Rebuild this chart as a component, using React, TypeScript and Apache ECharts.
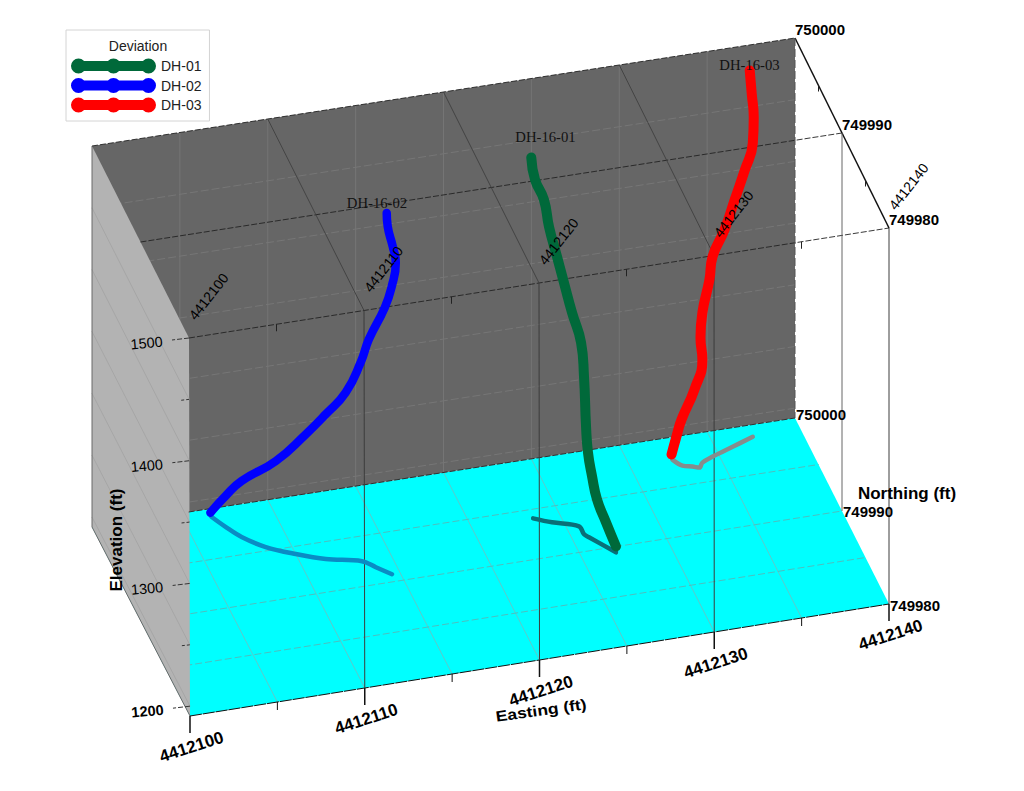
import React, { useEffect, useRef } from "react";
import * as echarts from "echarts";

// Axis values
const eastingMajor = [4412100, 4412110, 4412120, 4412130, 4412140];
const eastingGrid = [4412105, 4412110, 4412115, 4412120, 4412125, 4412130, 4412135];
const eastingMinor = [4412105, 4412115, 4412125, 4412135];
const northingMajor = [749980, 749990, 750000];
const northingGrid = [749985, 749990, 749995];
const northingMinor = [749985, 749995];
const elevationMajor = [1200, 1300, 1400, 1500];
const elevationMinor = [1250, 1350, 1450];
const elevationGrid = [1200, 1250, 1300, 1350, 1400, 1450];

// Borehole traces: [easting, northing, elevation]
const dh01Trace = [
  [4412123.40, 749994.12, 1484.9], [4412123.57, 749993.96, 1467.8], [4412124.00, 749993.67, 1452.8],
  [4412124.24, 749993.50, 1431.8], [4412124.62, 749993.22, 1408.7], [4412124.96, 749993.02, 1388.4],
  [4412125.36, 749992.79, 1364.8], [4412125.73, 749992.26, 1343.7], [4412125.75, 749991.72, 1320.2],
  [4412125.83, 749991.59, 1280.4], [4412125.89, 749991.41, 1260.6], [4412126.04, 749991.10, 1243.1],
  [4412126.22, 749990.73, 1226.9], [4412126.56, 749990.09, 1212.3], [4412126.95, 749989.44, 1196.8],
];
const dh02Trace = [
  [4412114.32, 749991.03, 1483.9], [4412114.36, 749990.97, 1473.3], [4412114.57, 749990.69, 1458.6],
  [4412114.69, 749990.50, 1446.8], [4412114.53, 749990.76, 1425.8], [4412114.24, 749991.16, 1406.2],
  [4412113.59, 749992.10, 1374.6], [4412113.24, 749992.52, 1353.5], [4412112.48, 749992.86, 1328.2],
  [4412111.45, 749993.27, 1309.5], [4412110.49, 749993.92, 1290.4], [4412109.07, 749994.98, 1263.7],
  [4412107.61, 749996.74, 1237.3], [4412107.04, 749997.98, 1217.0], [4412106.54, 749999.30, 1194.5],
];
const dh03Trace = [
  [4412137.07, 749998.68, 1490.2], [4412137.20, 749998.74, 1470.7], [4412137.32, 749998.76, 1450.9],
  [4412137.27, 749998.78, 1429.9], [4412136.74, 749998.51, 1411.3], [4412136.08, 749998.17, 1391.6],
  [4412135.41, 749997.83, 1371.3], [4412134.62, 749997.43, 1354.2], [4412134.40, 749997.28, 1337.2],
  [4412133.92, 749996.99, 1313.7], [4412133.74, 749996.72, 1295.8], [4412133.92, 749996.99, 1275.5],
  [4412133.38, 749996.67, 1254.9], [4412132.74, 749997.02, 1229.3], [4412132.55, 749997.39, 1213.1],
  [4412132.40, 749997.87, 1195.3],
];

// Plan-view projections of the traces on the floor: [easting, northing]
const dh01Floor = [
  [4412123.49, 749994.09], [4412124.38, 749993.40], [4412125.70, 749992.59],
  [4412125.75, 749991.72], [4412125.93, 749991.35], [4412126.95, 749989.44],
];
const dh02Floor = [
  [4412106.57, 749999.19], [4412107.04, 749997.98], [4412107.61, 749996.74], [4412108.61, 749995.38],
  [4412110.00, 749994.23], [4412111.45, 749993.27], [4412113.30, 749992.51], [4412113.87, 749991.70],
  [4412114.53, 749990.76],
];
const dh03Floor = [
  [4412132.42, 749997.75], [4412132.79, 749997.00], [4412133.29, 749996.75], [4412133.63, 749996.54],
  [4412133.92, 749996.99], [4412134.62, 749997.43], [4412135.94, 749998.10], [4412137.27, 749998.78],
];

const E0 = 4412100, E1 = 4412140, N0 = 749980, N1 = 750000, Z0 = 1192, Z1 = 1500;

// Screen position of the eight corners of the plot box, [E][N][Z]
const box = [
  [[[190, 716], [189, 338]], [[92, 527], [92, 146]]],
  [[[889, 604], [889, 228]], [[795, 418], [795, 38]]],
];

function project(E: number, N: number, Z: number): number[] {
  const e = (E - E0) / (E1 - E0), n = (N - N0) / (N1 - N0), z = (Z - Z0) / (Z1 - Z0);
  return [0, 1].map((k) =>
    (1 - e) * ((1 - n) * ((1 - z) * box[0][0][0][k] + z * box[0][0][1][k]) + n * ((1 - z) * box[0][1][0][k] + z * box[0][1][1][k])) +
    e * ((1 - n) * ((1 - z) * box[1][0][0][k] + z * box[1][0][1][k]) + n * ((1 - z) * box[1][1][0][k] + z * box[1][1][1][k]))
  );
}

type P3 = [number, number, number];
const seg = (a: P3, b: P3) => {
  const p = project(...a), q = project(...b);
  return [p[0], p[1], q[0], q[1]];
};
const tick = (a: P3, dx: number, dy: number) => {
  const p = project(...a);
  return [p[0], p[1], p[0] + dx, p[1] + dy];
};

function segments(name: string, data: number[][], style: any, z: number) {
  return {
    type: "custom", name, z, silent: true, clip: false, data,
    renderItem: (_: any, api: any) => {
      const a = api.coord([api.value(0), api.value(1)]);
      const b = api.coord([api.value(2), api.value(3)]);
      return { type: "line", shape: { x1: a[0], y1: a[1], x2: b[0], y2: b[1] }, style: { fill: null, ...style } };
    },
  };
}

function panel(name: string, corners: P3[], fill: string, z: number) {
  return {
    type: "custom", name, z, silent: true, clip: false,
    data: [corners.map((c) => project(...c)).flat()],
    renderItem: (_: any, api: any) => ({
      type: "polygon",
      shape: { points: [0, 2, 4, 6].map((i) => api.coord([api.value(i), api.value(i + 1)])) },
      style: { fill },
    }),
  };
}

type Label = { text: string; x: number; y: number; rot: number; size: number; weight?: string; family?: string; color?: string; scaleX?: number };
const SANS = "Liberation Sans";
const SERIF = "Liberation Serif";
const label = (a: P3, dx: number, dy: number, rest: Omit<Label, "x" | "y">): Label => {
  const p = project(...a);
  return { x: p[0] + dx, y: p[1] + dy, ...rest };
};

const labels: Label[] = [
  ...eastingMajor.map((e) => label([e, N0, Z1], 19.5, -41.5, { text: String(e), rot: 52, size: 14, color: "#000" })),
  ...eastingMajor.map((e) => label([e, N0, Z0], 1.5, 31, { text: String(e), rot: 18, size: 17, weight: "bold" })),
  ...northingMajor.map((n) => label([E1, n, Z1], 25, -8.5, { text: String(n), rot: 0, size: 15, weight: "bold" })),
  ...northingMajor.map((n, i) => label([E1, n, Z0], 26, [1, 0, -4][i], { text: String(n), rot: 0, size: 15, weight: "bold" })),
  ...elevationMajor.map((v) => label([E0, N0, v], -42.5, 5, { text: String(v), rot: 5, size: 14.5, weight: v === 1200 ? "bold" : "normal" })),
  { text: "Elevation (ft)", x: 116, y: 540, rot: 90, size: 17, weight: "bold" },
  { text: "Northing (ft)", x: 907, y: 493.5, rot: 0, size: 17, weight: "bold" },
  { text: "Easting (ft)", x: 541, y: 710, rot: 8, size: 15, weight: "bold", scaleX: 1.17 },
  { text: "DH-16-01", x: 545.5, y: 137, rot: 0, size: 14.7, family: SERIF, color: "#111" },
  { text: "DH-16-02", x: 377, y: 203, rot: 0, size: 14.7, family: SERIF, color: "#111" },
  { text: "DH-16-03", x: 749.5, y: 65, rot: 0, size: 14.7, family: SERIF, color: "#111" },
  { text: "Deviation", x: 138, y: 46, rot: 0, size: 14, color: "#222" },
];

const holes = [
  { name: "DH-01", color: "#00693a", trace: dh01Trace, floor: dh01Floor, shade: "#0a6f78", width: 10 },
  { name: "DH-02", color: "#0000ff", trace: dh02Trace, floor: dh02Floor, shade: "#0a8cc4", width: 8.5 },
  { name: "DH-03", color: "#ff0000", trace: dh03Trace, floor: dh03Floor, shade: "#868c8c", width: 10 },
];

const legendIcon =
  "path://M0 7.5A7.5 7.5 0 1 1 15 7.5A7.5 7.5 0 1 1 0 7.5Z" +
  "M35 7.5A7.5 7.5 0 1 1 50 7.5A7.5 7.5 0 1 1 35 7.5Z" +
  "M70 7.5A7.5 7.5 0 1 1 85 7.5A7.5 7.5 0 1 1 70 7.5Z" +
  "M7.5 2.5H77.5V12.5H7.5Z";

function buildOption() {
  const series: any[] = [
    panel("Floor", [[E0, N0, Z0], [E1, N0, Z0], [E1, N1, Z0], [E0, N1, Z0]], "#00ffff", 1),
    segments("Floor easting grid", eastingGrid.map((e) => seg([e, N0, Z0], [e, N1, Z0])), { stroke: "#5ccaca", lineWidth: 1 }, 2),
    segments("Floor northing grid", northingGrid.map((n) => seg([E0, n, Z0], [E1, n, Z0])), { stroke: "#4cc0c0", lineWidth: 1, lineDash: [7, 3] }, 2),
    panel("Back wall", [[E0, N1, Z0], [E1, N1, Z0], [E1, N1, Z1], [E0, N1, Z1]], "#666666", 3),
    segments("Wall easting grid", eastingGrid.map((e) => seg([e, N1, Z0], [e, N1, Z1])), { stroke: "#757575", lineWidth: 1 }, 4),
    segments("Wall elevation grid", elevationGrid.map((v) => seg([E0, N1, v], [E1, N1, v])), { stroke: "#767676", lineWidth: 1, lineDash: [8, 3] }, 4),
    panel("Left wall", [[E0, N0, Z0], [E0, N1, Z0], [E0, N1, Z1], [E0, N0, Z1]], "#b3b3b3", 5),
    segments("Left wall grid", elevationGrid.map((v) => seg([E0, N0, v], [E0, N1, v])), { stroke: "#a6a6a6", lineWidth: 1 }, 6),
    segments("Left wall edges", [seg([E0, N1, Z0], [E0, N1, Z1]), seg([E0, N0, Z0], [E0, N1, Z0])], { stroke: "#6a6a6a", lineWidth: 1 }, 6),
    segments("Box dashed edges", [
      seg([E0, N1, Z1], [E1, N1, Z1]),
      seg([4412105.5, N1, Z0], [E1, N1, Z0]),
      ...northingMajor.slice(0, 2).map((n) => seg([E0, n, Z1], [E1, n, Z1])),
    ], { stroke: "#222", lineWidth: 0.9, lineDash: [6, 2] }, 7),
    segments("Front floor edge", [seg([E0, N0, Z0], [E1, N0, Z0])], { stroke: "#111", lineWidth: 1, lineDash: [12, 1] }, 7),
    segments("Top easting lines", eastingMajor.slice(1, 4).map((e) => seg([e, N0, Z1], [e, N1, Z1])), { stroke: "#404040", lineWidth: 0.9 }, 7),
    segments("Top right edge", [seg([E1, N0, Z1], [E1, N1, Z1])], { stroke: "#111", lineWidth: 1.5 }, 7),
    segments("Verticals", eastingMajor.slice(1).map((e) => seg([e, N0, Z1], [e, N0, Z0])), { stroke: "#3c3c3c", lineWidth: 1 }, 7),
    segments("Vertical N990", [seg([E1, 749990, Z1], [E1, 749990, Z0])], { stroke: "#666", lineWidth: 1 }, 7),
    segments("Back right edge", [seg([E1, N1, Z1], [E1, N1, Z0])], { stroke: "#555", lineWidth: 1, lineDash: [8, 3] }, 7),
    segments("Easting major ticks", eastingMajor.map((e) => tick([e, N0, Z0], 0, 17)), { stroke: "#111", lineWidth: 1.5 }, 7),
    segments("Easting minor ticks", eastingMinor.map((e) => tick([e, N0, Z0], 0, 8)), { stroke: "#111", lineWidth: 1 }, 7),
    segments("Top minor ticks", eastingMinor.map((e) => tick([e, N0, Z1], 0, 7)), { stroke: "#222", lineWidth: 1 }, 7),
    segments("Northing minor ticks", northingMinor.map((n) => tick([E1, n, Z1], 0, 6)), { stroke: "#222", lineWidth: 1 }, 7),
    segments("Elevation major ticks", elevationMajor.map((v) => tick([E0, N0, v], -17, 2)), { stroke: "#333", lineWidth: 1, lineDash: [5, 2] }, 7),
    segments("Elevation minor ticks", elevationMinor.map((v) => tick([E0, N0, v], -9, 1)), { stroke: "#333", lineWidth: 1, lineDash: [3, 2] }, 7),
  ];

  holes.forEach((h) => {
    series.push({
      type: "line", name: h.name + " floor", z: 8, silent: true, showSymbol: false, symbol: "none", smooth: 0.35,
      data: h.floor.map((p) => project(p[0], p[1], Z0)),
      lineStyle: { color: h.shade, width: 4.5, cap: "round", join: "round" },
    });
    series.push({
      type: "line", name: h.name, z: 9, silent: true, showSymbol: false, symbol: "none", smooth: 0.5,
      data: h.trace.map((p) => project(p[0], p[1], p[2])),
      itemStyle: { color: h.color },
      lineStyle: { color: h.color, width: h.width, cap: "round", join: "round" },
    });
  });

  series.push({
    type: "custom", name: "Labels", z: 20, silent: true, clip: false,
    data: labels.map((l, i) => [l.x, l.y, i]),
    renderItem: (_: any, api: any) => {
      const l = labels[api.value(2)];
      const p = api.coord([api.value(0), api.value(1)]);
      return {
        type: "text", x: p[0], y: p[1], rotation: (l.rot * Math.PI) / 180, scaleX: l.scaleX ?? 1,
        style: {
          text: l.text, fill: l.color ?? "#000", align: "center", verticalAlign: "middle",
          fontFamily: l.family ?? SANS, fontSize: l.size, fontWeight: l.weight ?? "normal",
        },
      };
    },
  });

  return {
    animation: false,
    backgroundColor: "#ffffff",
    grid: { left: 0, right: 0, top: 0, bottom: 0 },
    xAxis: { type: "value", min: 0, max: 1024, show: false },
    yAxis: { type: "value", min: 0, max: 791, inverse: true, show: false },
    legend: {
      data: holes.map((h) => h.name),
      orient: "vertical", left: 66, top: 30, icon: legendIcon, itemWidth: 85, itemHeight: 15, itemGap: 4.5,
      padding: [28.5, 8, 8.5, 5], backgroundColor: "#ffffff", borderColor: "#d4d4d4", borderWidth: 1,
      selectedMode: false, itemStyle: { borderWidth: 0 },
      textStyle: { fontFamily: SANS, fontSize: 14, color: "#222", padding: [0, 0, 0, 0] },
    },
    series,
  };
}

export default function App() {
  const ref = useRef<HTMLDivElement>(null);
  useEffect(() => {
    const chart = echarts.init(ref.current!, undefined, { renderer: "svg" });
    chart.setOption(buildOption() as any);
    return () => chart.dispose();
  }, []);
  return <div ref={ref} style={{ position: "absolute", left: 0, top: 0, width: 1024, height: 791 }} />;
}
